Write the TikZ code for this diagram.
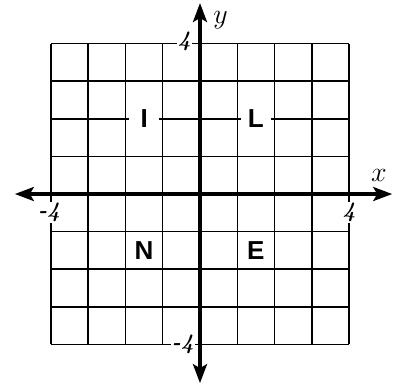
\RequirePackage{fix-cm}
\documentclass[tikz,border=0pt]{standalone}
\usepackage{fontspec}
\newfontfamily\labfont{Liberation Sans Bold}
\usetikzlibrary{arrows.meta}
\begin{document}
\begin{tikzpicture}[x=37.25pt,y=37.6pt,
  gridline/.style={line width=1.5pt,black},
  axisline/.style={line width=3.2pt,black,{Stealth[length=19pt,width=14pt,inset=4pt]}-{Stealth[length=19pt,width=14pt,inset=4pt]}},
  letter/.style={fill=white,inner sep=0pt,minimum width=30pt,minimum height=22pt,font={\fontsize{26}{26}\labfont\selectfont}},
  numlab/.style={inner sep=1pt,fill=white,font=\bfseries\itshape\fontsize{22}{22}\selectfont},
  axlab/.style={inner sep=0pt,font={\fontsize{28}{28}\selectfont}}]
\useasboundingbox (-5.369,-5.080) rectangle (5.208,5.160);
\foreach \k in {-4,...,4} {
  \draw[gridline] (\k,-4) -- (\k,4);
  \draw[gridline] (-4,\k) -- (4,\k);
}
\node[letter] (I) at (-1.5,2) {I};
\node[letter] (L) at (1.5,2) {L};
\node[letter,fill=none] (N) at (-1.5,-1.5) {N};
\node[letter,fill=none] (E) at (1.5,-1.5) {E};
\coordinate (xl) at (-4.97,0);
\coordinate (xr) at (5.16,0);
\coordinate (yb) at (0,-5.03);
\coordinate (yt) at (0,5.08);
\draw[axisline] (xl) -- (xr);
\draw[axisline] (yb) -- (yt);
\node[axlab] (xlab) at (4.8,0.5) {$x$};
\node[axlab] (ylab) at (0.55,4.62) {$y$};
\node[numlab] (t4) at (-0.42,4.05) {4};
\node[numlab] (l4) at (-4.05,-0.5) {-4};
\node[numlab] (r4) at (4.0,-0.5) {4};
\node[numlab] (b4) at (-0.46,-4.0) {-4};
\end{tikzpicture}
\end{document}
